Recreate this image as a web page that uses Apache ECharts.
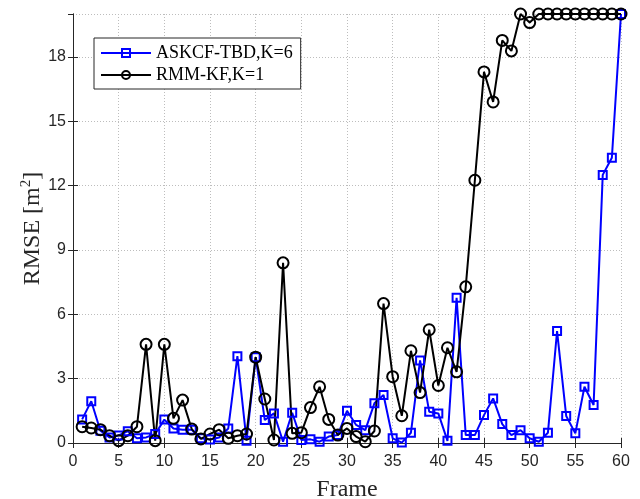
<!DOCTYPE html>
<html><head><meta charset="utf-8">
<script src="https://cdn.jsdelivr.net/npm/echarts@6/dist/echarts.min.js"></script>
<style>html,body{margin:0;padding:0;background:#fff}#c{width:640px;height:499px}</style>
</head><body><div id="c"></div>
<script>
const frames = [1,2,3,4,5,6,7,8,9,10,11,12,13,14,15,16,17,18,19,20,21,22,23,24,25,26,27,28,29,30,31,32,33,34,35,36,37,38,39,40,41,42,43,44,45,46,47,48,49,50,51,52,53,54,55,56,57,58,59,60];
const askcf = [1.1,1.95,0.57,0.26,0.35,0.55,0.22,0.26,0.42,1.09,0.68,0.62,0.62,0.22,0.16,0.26,0.68,4.05,0.11,4.0,1.07,1.38,0.06,1.41,0.14,0.17,0.06,0.3,0.37,1.5,0.84,0.6,1.85,2.24,0.22,0.02,0.48,3.85,1.46,1.38,0.1,6.77,0.37,0.37,1.3,2.08,0.88,0.37,0.6,0.22,0.06,0.48,5.22,1.26,0.45,2.62,1.77,12.5,13.3,20];
const rmm = [0.76,0.7,0.62,0.34,0.11,0.34,0.76,4.6,0.11,4.6,1.15,2.0,0.65,0.19,0.42,0.62,0.22,0.34,0.42,4.0,2.05,0.14,8.4,0.45,0.48,1.65,2.62,1.1,0.37,0.68,0.3,0.06,0.56,6.5,3.09,1.27,4.3,2.35,5.28,2.68,4.44,3.32,7.28,12.25,17.3,15.9,18.77,18.28,20,19.6,20,20,20,20,20,20,20,20,20,20];
const seriesNames = ['ASKCF-TBD,K=6','RMM-KF,K=1'];

const chart = echarts.init(document.getElementById('c'), null, {renderer:'canvas'});
const axisCol = '#262626';
const gridLine = {show:true, lineStyle:{color:'#bdbdbd', type:[1,2], width:1}};
chart.setOption({
  animation:false,
  backgroundColor:'#fff',
  grid:{left:73, right:19, top:14, bottom:56, outerBoundsMode:'none', containLabel:false},
  legend:{
    orient:'vertical', left:94, top:38,
    data:seriesNames,
    backgroundColor:'#fff', borderColor:'#262626', borderWidth:1,
    padding:[6,8,5,6], itemGap:4, itemWidth:50, itemHeight:10,
    textStyle:{fontFamily:'Liberation Serif', fontSize:18, color:'#000'}
  },
  xAxis:[{
    type:'value', min:0, max:60, interval:5,
    name:'Frame', nameLocation:'middle', nameGap:35, nameMoveOverlap:false,
    nameTextStyle:{fontFamily:'Liberation Serif', fontSize:24, color:'#262626'},
    axisLine:{show:true, lineStyle:{color:axisCol, width:1}},
    axisTick:{show:true, inside:true, length:5, lineStyle:{color:axisCol}},
    axisLabel:{fontFamily:'Liberation Sans', fontSize:16, color:axisCol, margin:11},
    splitLine:gridLine
  },{
    type:'value', min:0, max:60, interval:5, position:'top',
    axisLine:{show:true, lineStyle:{color:axisCol, width:1}},
    axisTick:{show:true, inside:true, length:5, lineStyle:{color:axisCol}},
    axisLabel:{show:false}, splitLine:{show:false}
  }],
  yAxis:[{
    type:'value', min:0, max:20, interval:3,
    name:'RMSE [m{sup|2}]', nameLocation:'middle', nameGap:27, nameRotate:90, nameMoveOverlap:false,
    nameTextStyle:{fontFamily:'Liberation Serif', fontSize:24, color:'#262626',
      rich:{sup:{fontFamily:'Liberation Serif', fontSize:15, color:'#262626', verticalAlign:'top', padding:[0,0,12,0]}}},
    axisLine:{show:true, lineStyle:{color:axisCol, width:1}},
    axisTick:{show:true, inside:true, length:5, lineStyle:{color:axisCol}},
    axisLabel:{fontFamily:'Liberation Sans', fontSize:16, color:axisCol, margin:7, showMaxLabel:false},
    splitLine:gridLine
  },{
    type:'value', min:0, max:20, interval:3, position:'right',
    axisLine:{show:true, lineStyle:{color:axisCol, width:1}},
    axisTick:{show:true, inside:true, length:5, lineStyle:{color:axisCol}},
    axisLabel:{show:false}, splitLine:{show:false}
  }],
  series:[{
    name:seriesNames[0], type:'line',
    data:frames.map((f,i)=>[f, askcf[i]]),
    symbol:'rect', symbolSize:8,
    lineStyle:{color:'#0000ff', width:2},
    itemStyle:{color:'rgba(0,0,0,0)', borderColor:'#0000ff', borderWidth:2},
    color:'#0000ff'
  },{
    name:seriesNames[1], type:'line',
    data:frames.map((f,i)=>[f, rmm[i]]),
    symbol:'circle', symbolSize:11,
    lineStyle:{color:'#000', width:2},
    itemStyle:{color:'rgba(0,0,0,0)', borderColor:'#000', borderWidth:2},
    color:'#000'
  }]
});
</script></body></html>
